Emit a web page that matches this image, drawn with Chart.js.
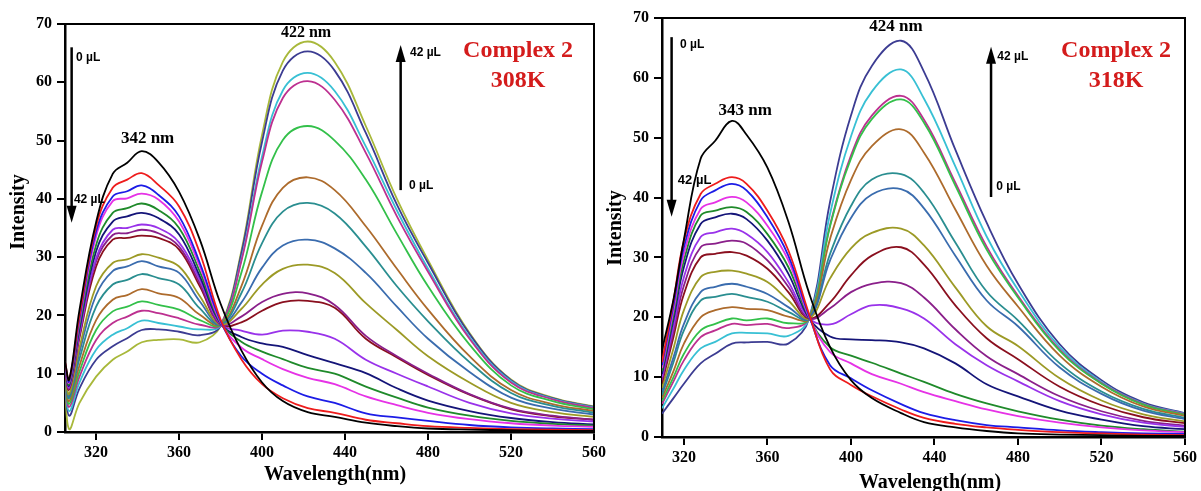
<!DOCTYPE html>
<html>
<head>
<meta charset="utf-8">
<script src="https://cdn.jsdelivr.net/npm/chart.js@4.4.1/dist/chart.umd.min.js"></script>
<style>
  html, body { margin: 0; padding: 0; background: #fff; }
  #wrap { position: relative; width: 1201px; height: 491px; overflow: hidden; background: #fff; }
  #c308 { position: absolute; left: 0; top: 0; }
  #c318 { position: absolute; left: 600px; top: 0; }
</style>
</head>
<body>
<div id="wrap">
  <canvas id="c308" width="620" height="491"></canvas>
  <canvas id="c318" width="601" height="491"></canvas>
</div>
<script>
// emission spectra, complex 2 titration (0 -> 42 uL)

const X_TICKS = [320, 360, 400, 440, 480, 520, 560];

// ---- 308 K ----
const WL_308 = [305, 307, 312, 320, 328, 335, 342, 350, 360, 370, 380, 390, 400, 410, 422, 435, 450, 465, 480, 500, 520, 540, 560];
const i308_00 = [12, 9, 21, 36, 44.3, 46.2, 48.2, 46.3, 41.2, 33, 22, 14, 8.5, 5.3, 3.4, 2.6, 1.6, 1.0, 0.6, 0.4, 0.3, 0.2, 0.2];
const i308_01 = [12, 9, 20, 35.3, 41.9, 43.3, 44.4, 42.4, 38.7, 30.7, 19.3, 12.5, 8.2, 5.8, 4.1, 3.3, 2.1, 1.5, 1.0, 0.7, 0.5, 0.4, 0.3];
const i308_02 = [11.8, 8.7, 19.5, 34.4, 40.4, 41.3, 42.3, 40.7, 37, 29, 19.0, 13, 10, 8, 6.1, 5.0, 3.2, 2.5, 1.9, 1.2, 0.8, 0.6, 0.5];
const i308_03 = [11.6, 8.5, 19, 33.6, 39.6, 40.1, 40.9, 39.9, 36.1, 28.4, 18.8, 14.5, 12.5, 10.8, 9.3, 8.2, 6.1, 4.6, 3.3, 2.2, 1.5, 1.1, 0.9];
const i308_04 = [11.4, 8.2, 18.3, 32.1, 37.6, 38.4, 39.2, 38.1, 35, 27.5, 18.7, 15.5, 13.8, 12.5, 11, 10, 7.8, 5.9, 4.2, 2.8, 1.9, 1.4, 1.1];
const i308_05 = [11.2, 8, 17.7, 31, 36.1, 37, 37.6, 36.7, 33.9, 26.7, 18.6, 16.3, 15.2, 14.6, 13.2, 11.8, 10.1, 7.5, 5.4, 3.6, 2.4, 1.7, 1.3];
const i308_06 = [11, 7.7, 17, 29.8, 34.7, 35, 35.6, 35, 32.5, 26.1, 18.5, 17.4, 16.7, 17.4, 17.2, 16, 12.4, 10, 7.8, 5, 3.2, 2.3, 1.8];
const i308_07 = [10.8, 7.5, 16.6, 29.3, 33.8, 34.1, 34.7, 34.1, 31.8, 25.5, 18.4, 19.8, 22.3, 23.7, 23.8, 21.8, 16.5, 13, 10, 6.5, 4.0, 2.8, 2.1];
const i308_08 = [10.6, 7.3, 16.2, 28.4, 33, 33.3, 33.7, 33.3, 31.3, 25, 18.4, 18.8, 20.8, 22.3, 22.5, 21.3, 16, 12.8, 9.8, 6.4, 3.9, 2.7, 2.1];
const i308_09 = [10.2, 6.5, 14.5, 25, 29, 29.6, 30.5, 29.9, 28.4, 23.3, 18.4, 21.1, 25.3, 28.0, 28.7, 27.3, 22.1, 17.5, 13, 8.5, 5.0, 3.4, 2.6];
const i308_10 = [10, 6.2, 13.7, 23.5, 27.6, 28.4, 29.3, 28.4, 27.3, 22.4, 18.4, 22.2, 28.2, 32.0, 33, 31.5, 27.3, 21.5, 16, 10.3, 5.9, 4.0, 3.0];
const i308_11 = [9.8, 5.8, 12.6, 21.5, 25.3, 26.1, 27.1, 26.4, 25.3, 21.2, 18.4, 23.8, 32.4, 37.8, 39.3, 37.5, 31.8, 25, 19, 12, 6.7, 4.5, 3.3];
const i308_12 = [9.6, 5.3, 11.4, 19.2, 22.7, 23.5, 24.5, 23.8, 23, 20.1, 18.4, 25, 35.4, 41.9, 43.7, 41.5, 35.3, 28, 21, 13, 7.2, 4.8, 3.6];
const i308_13 = [9.4, 4.8, 10.4, 17.5, 20.7, 21.5, 22.4, 21.8, 21, 19.2, 18.4, 27.3, 41.2, 50.1, 52.5, 50, 43.3, 34, 25, 15, 8.0, 5.3, 3.9];
const i308_14 = [9.2, 4.3, 9.5, 15.8, 18.7, 19.8, 20.8, 20.4, 19.5, 18.4, 18.4, 29.3, 46.4, 57.3, 60.2, 57, 47.9, 37, 27.5, 16, 8.5, 5.6, 4.1];
const i308_15 = [9, 3.6, 8.5, 14.1, 16.7, 17.8, 19.1, 18.7, 18.1, 17.6, 18.3, 29.6, 47.3, 58.6, 61.6, 58.5, 49, 38, 28, 16.3, 8.7, 5.7, 4.2];
const i308_16 = [8.6, 2.8, 7.5, 12.4, 14.7, 16.1, 17.5, 17.6, 17.2, 16.6, 18.2, 30.6, 49.8, 62.0, 65.3, 62, 51.3, 39, 29, 16.8, 8.9, 5.8, 4.3];
const i308_17 = [8, 0.5, 5, 9.5, 12.4, 13.8, 15.4, 15.8, 15.9, 15.4, 18.2, 31, 51, 63.5, 67, 63.5, 52.5, 40, 29.5, 17, 9, 5.9, 4.4];

// ---- 318 K ----
const WL_318 = [309.5, 315, 320, 328, 335, 343, 350, 360, 370, 380, 390, 400, 410, 424, 435, 450, 465, 480, 500, 520, 540, 560];
const i318_00 = [14.5, 23, 33, 46.5, 49.5, 52.8, 50.5, 45, 36, 24, 15, 9.5, 6.5, 4.0, 2.5, 1.6, 1.0, 0.6, 0.4, 0.3, 0.2, 0.2];
const i318_01 = [12.5, 22.8, 32.8, 40.6, 42.3, 43.4, 42.3, 37.8, 31.2, 20.5, 11.3, 8.7, 6.8, 4.6, 3.2, 2.2, 1.6, 1.2, 0.8, 0.6, 0.4, 0.3];
const i318_02 = [12, 22, 31.7, 39.5, 41.2, 42.3, 41.2, 36.7, 30.3, 20.2, 12, 9.8, 7.8, 5.5, 4.0, 2.8, 2.0, 1.6, 1.1, 0.8, 0.6, 0.5];
const i318_03 = [11.5, 21.2, 30.6, 38.1, 39.2, 40.1, 39.2, 35.3, 29.5, 20, 14.2, 12.3, 10.5, 8.9, 7.5, 6.0, 4.6, 3.5, 2.4, 1.6, 1.1, 0.8];
const i318_04 = [11, 20.4, 29.5, 37, 37.8, 38.4, 37.6, 33.9, 28.4, 19.9, 15, 13.6, 12.4, 10.6, 9.2, 7.2, 5.6, 4.3, 2.9, 1.9, 1.3, 0.9];
const i318_05 = [10.5, 19.6, 28.4, 35.6, 36.7, 37.3, 36.4, 32.8, 27.3, 19.8, 16.8, 16.3, 16.2, 15.8, 14.8, 12.3, 8.8, 6.8, 4.4, 2.9, 1.8, 1.3];
const i318_06 = [10, 18.5, 26.7, 33.4, 34.2, 34.8, 33.9, 30.9, 25.9, 19.8, 18.8, 20.5, 22, 21.5, 19.8, 15.5, 12, 9.3, 6.0, 3.8, 2.4, 1.7];
const i318_07 = [9.5, 17.6, 25.3, 31.7, 32.3, 32.8, 32.3, 29.5, 25.1, 19.8, 21.5, 24.2, 25.6, 25.7, 23.3, 18, 13.5, 10.5, 6.8, 4.3, 2.7, 1.9];
const i318_08 = [9, 16.7, 23.9, 30, 30.6, 30.9, 30.3, 28.1, 24.2, 19.8, 22.5, 27, 30.3, 31.7, 28.8, 22, 16.5, 13, 8.4, 5.3, 3.3, 2.3];
const i318_09 = [8.2, 14.8, 21.2, 26.7, 27.6, 27.8, 27.3, 25.9, 22.8, 19.8, 26.5, 31.5, 34.1, 34.8, 32, 25, 18.5, 15.2, 9.8, 6.1, 3.8, 2.6];
const i318_10 = [7.6, 13.3, 18.9, 24.2, 25.1, 25.6, 25.1, 23.9, 21.7, 19.8, 29.5, 36.6, 40.5, 41.4, 38.2, 30.3, 22.8, 18.5, 11.6, 7.2, 4.4, 3.0];
const i318_11 = [7, 12.5, 17.8, 22.8, 23.4, 23.9, 23.4, 22.6, 20.9, 19.8, 30.6, 38.6, 43, 43.9, 40.8, 32.5, 24.3, 19.5, 12.3, 7.6, 4.7, 3.2];
const i318_12 = [6.5, 11, 15.6, 20, 21.2, 21.7, 21.4, 21.2, 20.1, 19.8, 33.1, 42.9, 48.6, 51.4, 47.5, 38, 28.6, 21.8, 13.6, 8.4, 5.1, 3.5];
const i318_13 = [6, 10, 13.9, 17.8, 18.9, 19.8, 19.5, 19.8, 19, 19.8, 35.2, 46.5, 53.1, 56.4, 52.5, 42, 31.3, 23.3, 14.4, 8.9, 5.4, 3.7];
const i318_14 = [5.5, 9.3, 12.8, 16.7, 17.8, 18.9, 18.7, 18.9, 18.2, 19.8, 35.4, 47.0, 53.7, 57, 53, 42.5, 31.8, 23.6, 14.6, 9.0, 5.5, 3.8];
const i318_15 = [4.8, 8.1, 11.2, 14.8, 15.9, 17.3, 17.4, 17.3, 16.9, 19.8, 37.3, 50.2, 57.7, 61.4, 56.5, 45.2, 33.5, 24.6, 15, 9.2, 5.6, 3.9];
const i318_16 = [3.9, 6.5, 8.9, 12.3, 13.9, 15.6, 15.8, 15.9, 15.6, 19.8, 39.3, 53.7, 62.0, 66.2, 61, 48, 35.8, 25.6, 15.5, 9.5, 5.8, 4.0];

const SERIES_308 = [i308_00, i308_01, i308_02, i308_03, i308_04, i308_05, i308_06, i308_07, i308_08,
  i308_09, i308_10, i308_11, i308_12, i308_13, i308_14, i308_15, i308_16, i308_17];
const SERIES_318 = [i318_00, i318_01, i318_02, i318_03, i318_04, i318_05, i318_06, i318_07, i318_08,
  i318_09, i318_10, i318_11, i318_12, i318_13, i318_14, i318_15, i318_16];

// origin-like colour run, 0 uL first
const COLORS = ["#000000", "#ee1c1c", "#1c1ce6", "#e632e6", "#1f8a2a", "#141478", "#9932ea", "#8a1f8a",
  "#8a0f1e", "#9c9a26", "#3a6cae", "#2a8e90", "#ad6b2c", "#33c04a", "#bd3090", "#38c0d4", "#3c3c92", "#a8b83a"];

const SERIF = "Liberation Serif";
const SANS = "Liberation Sans";

// annotation plugin: texts and arrows placed in data coords
const annot = {
  id: "annot",
  afterDraw(chart, args, o) {
    const { ctx, chartArea: a, scales: { x, y } } = chart;
    ctx.save();
    // top/right frame
    ctx.strokeStyle = "#000";
    ctx.lineWidth = 2;
    ctx.beginPath();
    ctx.moveTo(a.left, a.top);
    ctx.lineTo(a.right, a.top);
    ctx.lineTo(a.right, a.bottom);
    ctx.stroke();

    for (const ar of o.arrows) {
      const px = x.getPixelForValue(ar.x);
      const p0 = y.getPixelForValue(ar.from);
      const p1 = y.getPixelForValue(ar.to);
      const dir = p1 > p0 ? 1 : -1;
      ctx.lineWidth = 2.5;
      ctx.beginPath();
      ctx.moveTo(px, p0);
      ctx.lineTo(px, p1 - dir * 12);
      ctx.stroke();
      ctx.fillStyle = "#000";
      ctx.beginPath();
      ctx.moveTo(px, p1);
      ctx.lineTo(px - 5, p1 - dir * 17);
      ctx.lineTo(px + 5, p1 - dir * 17);
      ctx.closePath();
      ctx.fill();
    }

    for (const t of o.texts) {
      ctx.font = t.font;
      ctx.fillStyle = t.color || "#000";
      ctx.textAlign = t.align || "center";
      ctx.textBaseline = "middle";
      ctx.fillText(t.text, x.getPixelForValue(t.x), y.getPixelForValue(t.y));
    }

    // axis titles (pixel spots)
    ctx.fillStyle = "#000";
    ctx.font = "bold 20px '" + SERIF + "'";
    ctx.textAlign = "center";
    ctx.textBaseline = "middle";
    ctx.fillText("Wavelength(nm)", o.xTitle[0], o.xTitle[1]);
    ctx.translate(o.yTitle[0], o.yTitle[1]);
    ctx.rotate(-Math.PI / 2);
    ctx.fillText("Intensity", 0, 0);
    ctx.restore();
  }
};

function makeChart(id, wl, series, xmin, pad, yWidth, xHeight, extra) {
  const datasets = series.map((vals, k) => ({
    data: wl.map((w, i) => ({ x: w, y: vals[i] })),
    borderColor: COLORS[k],
    borderWidth: 1.8,
    pointRadius: 0,
    fill: false,
    tension: 0.4
  }));
  const tickFont = { family: SERIF, size: 16, weight: "bold" };
  return new Chart(document.getElementById(id), {
    type: "line",
    data: { datasets },
    plugins: [annot],
    options: {
      responsive: false,
      animation: false,
      layout: { padding: pad },
      plugins: { legend: { display: false }, tooltip: { enabled: false }, annot: extra },
      scales: {
        x: {
          type: "linear", min: xmin, max: 560,
          afterBuildTicks: s => { s.ticks = X_TICKS.map(v => ({ value: v })); },
          afterFit: s => { s.height = xHeight; },
          ticks: { color: "#000", font: tickFont, padding: 3, maxRotation: 0 },
          grid: { drawOnChartArea: false, drawTicks: true, tickLength: 8, lineWidth: 2, color: "#000" },
          border: { color: "#000", width: 2.5 }
        },
        y: {
          min: 0, max: 70,
          afterFit: s => { s.width = yWidth; },
          ticks: { stepSize: 10, color: "#000", font: tickFont, padding: 5 },
          grid: { drawOnChartArea: false, drawTicks: true, tickLength: 8, lineWidth: 2, color: "#000" },
          border: { color: "#000", width: 2.5 }
        }
      }
    }
  });
}

const PEAK_FONT = "bold 17px '" + SERIF + "'";
const UL_FONT = "bold 12px '" + SANS + "'";
const RED_FONT = "bold 24px '" + SERIF + "'";

makeChart("c308", WL_308, SERIES_308, 305, { top: 24, right: 26, left: 0, bottom: 0 }, 65, 59, {
  xTitle: [335, 475], yTitle: [19, 212],
  arrows: [{ x: 308.2, from: 66.0, to: 35.9 }, { x: 466.8, from: 41.5, to: 66.4 }],
  texts: [
    { text: "342 nm", x: 344.8, y: 50.3, font: PEAK_FONT },
    { text: "422 nm", x: 421.2, y: 68.4, font: "bold 16px '" + SERIF + "'" },
    { text: "0 \u00b5L", x: 310.3, y: 64.2, font: UL_FONT, align: "left" },
    { text: "42 \u00b5L", x: 309.3, y: 39.8, font: UL_FONT, align: "left" },
    { text: "42 \u00b5L", x: 471.3, y: 65.0, font: UL_FONT, align: "left" },
    { text: "0 \u00b5L", x: 470.8, y: 42.2, font: UL_FONT, align: "left" },
    { text: "Complex 2", x: 523.4, y: 65.4, font: RED_FONT, color: "#d41c1c" },
    { text: "308K", x: 523.4, y: 60.2, font: RED_FONT, color: "#d41c1c" }
  ]
});

makeChart("c318", WL_318, SERIES_318, 309.5, { top: 18, right: 16, left: 0, bottom: 0 }, 62, 54, {
  xTitle: [330, 483], yTitle: [16, 228],
  arrows: [{ x: 314.1, from: 66.8, to: 36.8 }, { x: 467.1, from: 40.1, to: 65.2 }],
  texts: [
    { text: "343 nm", x: 349.4, y: 54.5, font: PEAK_FONT },
    { text: "424 nm", x: 421.6, y: 68.5, font: PEAK_FONT },
    { text: "0 \u00b5L", x: 318.1, y: 65.5, font: UL_FONT, align: "left" },
    { text: "42 \u00b5L", x: 317.1, y: 42.8, font: "bold 13px '" + SANS + "'", align: "left" },
    { text: "42 \u00b5L", x: 470.1, y: 63.5, font: UL_FONT, align: "left" },
    { text: "0 \u00b5L", x: 469.6, y: 41.9, font: UL_FONT, align: "left" },
    { text: "Complex 2", x: 527, y: 64.5, font: RED_FONT, color: "#d41c1c" },
    { text: "318K", x: 527, y: 59.5, font: RED_FONT, color: "#d41c1c" }
  ]
});
</script>
</body>
</html>
